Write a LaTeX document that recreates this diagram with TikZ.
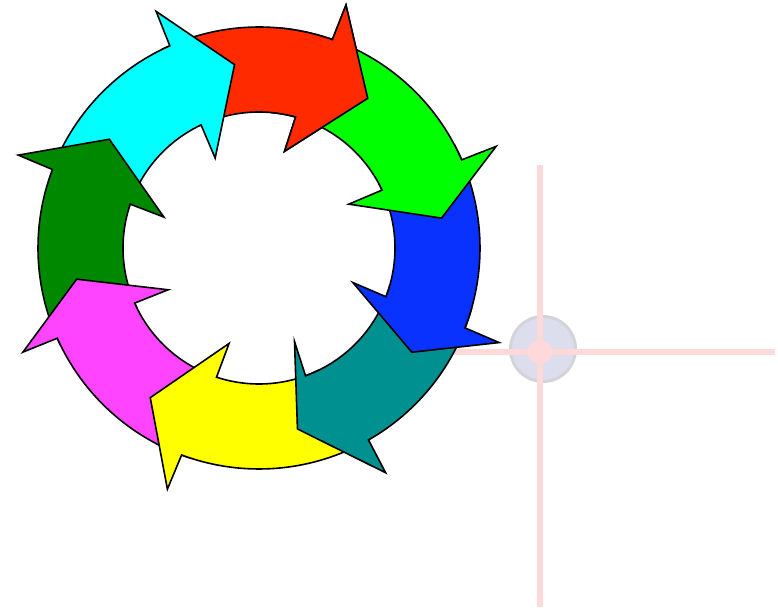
\documentclass[tikz,border=0pt]{standalone}
\usepackage{tikz}
\definecolor{ringred}{HTML}{FF2A00}
\definecolor{ringgreen}{HTML}{00FF00}
\definecolor{ringblue}{HTML}{0A32FF}
\definecolor{ringteal}{HTML}{009090}
\definecolor{ringyellow}{HTML}{FFFF00}
\definecolor{ringpink}{HTML}{FF44FF}
\definecolor{ringforest}{HTML}{008800}
\definecolor{ringcyan}{HTML}{00FFFF}
\definecolor{crosspink}{HTML}{FFD8DA}
\definecolor{blobfill}{HTML}{DCDEEE}
\definecolor{blobrim}{HTML}{D4D4D8}

\tikzset{arrowpiece/.style={draw=black,line width=1.6pt,line join=miter}}

% one bent arrow of the ring: #1 tip angle, #2 outer base, #3 inner base
\newcommand{\ringarrow}[4]{%
  \filldraw[arrowpiece,fill=#4] (#1:185) -- (#2-0.3:258) -- (#2:221)
    arc[start angle=#2,end angle=#1+62,radius=221] -- (#1+62:136)
    arc[start angle=#1+62,end angle=#3,radius=136] -- (#3+0.8:100) -- cycle;}

\begin{document}
\begin{tikzpicture}[x=1pt,y=1pt]
\useasboundingbox (0,0) rectangle (778,613);
% cross marker
\filldraw[fill=blobfill,draw=blobrim,line width=3pt] (543,264) circle (32.5);
\draw[crosspink,line width=6pt] (540,448) -- (540,6);
\draw[crosspink,line width=6pt] (450,261) -- (775,261);
\fill[crosspink] (540,261) circle (12);
% ring of arrows
\begin{scope}[shift={(259,365)}]
\coordinate (hub) at (0,0);
\ringarrow{54}{70.6}{74.4}{ringred}
\foreach \t/\o/\i/\c in {97.6/113.8/115.2/ringcyan,144/159.2/161.2/ringforest,
    189.7/204.1/203.9/ringpink,234/249.5/251.8/ringyellow,-78/-60.3/-70/ringteal,
    -34.3/-21.2/-21/ringblue,9.3/23.5/25.2/ringgreen}
  {\ringarrow{\t}{\o}{\i}{\c}}
% red head back on top of the green tail
\begin{scope}
\clip (hub) -- (40:320) arc[start angle=40,end angle=85,radius=320] -- cycle;
\ringarrow{54}{70.6}{74.4}{ringred}
\end{scope}
\end{scope}
\end{tikzpicture}
\end{document}
